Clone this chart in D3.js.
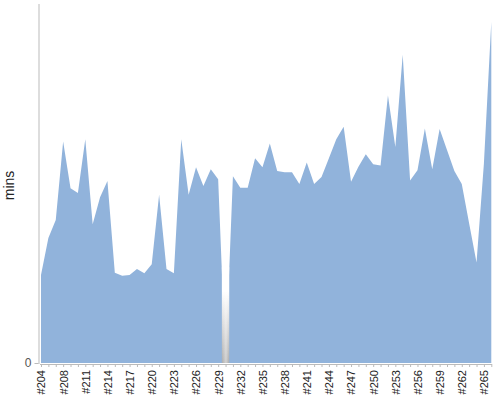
<!DOCTYPE html>
<meta charset="utf-8">
<script src="https://d3js.org/d3.v7.min.js"></script>
<style>
  body { margin: 0; background: #fff; }
  text { font-family: "Liberation Sans", Arial, sans-serif; }
</style>
<div id="my_dataviz"></div>
<script>
    // build numbers (no #205)
    const builds = ["#204"].concat(d3.range(206, 267).map(n => "#" + n));

    // build duration in minutes
    const mins = [14.7, 20.9, 23.9, 37.0, 29.2, 28.4, 37.4, 23.2, 27.7, 30.4,
                  15.1, 14.6, 14.7, 15.7, 15.0, 16.5, 28.1, 15.7, 15.0, 37.4,
                  28.1, 32.7, 29.6, 32.4, 30.7, 0, 31.2, 29.3, 29.3, 34.2,
                  32.7, 36.7, 32.1, 31.9, 31.9, 29.9, 33.5, 29.9, 31.1, 34.2,
                  37.4, 39.5, 30.3, 32.8, 34.9, 33.2, 33.0, 44.7, 36.1, 51.5,
                  30.5, 32.2, 39.2, 32.4, 39.1, 35.6, 32.1, 29.9, 23.3, 16.8,
                  33.4, 57.0];

    // builds that failed (highlighted)
    const failed = ["#230"];

    // label every third build
    const tickLabels = builds.filter((d, i) => i % 3 === 0 && i < 61);

    const margin = {top: 4, right: 9, bottom: 36, left: 41},
        width = 500 - margin.left - margin.right,
        height = 400 - margin.top - margin.bottom;

    const svg = d3.select("#my_dataviz")
      .append("svg")
        .attr("width", 500)
        .attr("height", 400)
      .append("g")
        .attr("transform", `translate(${margin.left},${margin.top})`);

    const x = d3.scalePoint()
      .domain(builds)
      .range([0, width + 0.3]);

    const y = d3.scaleLinear()
      .domain([0, 60])
      .range([height - 1, 0]);

    // area
    const data = builds.map((b, i) => ({build: b, value: mins[i]}));
    svg.append("path")
      .datum(data)
      .attr("fill", "#91b3db")
      .attr("d", d3.area()
        .x(d => x(d.build))
        .y0(y(0))
        .y1(d => y(d.value)));

    // gradient for failed builds, drawn over the area
    const defs = svg.append("defs");
    const grad = defs.append("linearGradient")
        .attr("id", "failGrad")
        .attr("x1", 0).attr("y1", 0).attr("x2", 0).attr("y2", 1);
    grad.append("stop").attr("offset", "0%").attr("stop-color", "#fff");
    grad.append("stop").attr("offset", "25%").attr("stop-color", "#fff");
    grad.append("stop").attr("offset", "100%").attr("stop-color", "#acacac");
    const shine = defs.append("linearGradient")
        .attr("id", "failShine")
        .attr("x1", 0).attr("y1", 0).attr("x2", 1).attr("y2", 0);
    shine.append("stop").attr("offset", "0%").attr("stop-color", "#fff").attr("stop-opacity", 0);
    shine.append("stop").attr("offset", "55%").attr("stop-color", "#fff").attr("stop-opacity", 0.45);
    shine.append("stop").attr("offset", "100%").attr("stop-color", "#fff").attr("stop-opacity", 0);

    const fails = svg.selectAll(".fail")
      .data(failed)
      .join("g")
        .attr("class", "fail");
    fails.append("rect")
        .attr("x", d => x(d) - x.step() / 2)
        .attr("width", x.step())
        .attr("y", y(16))
        .attr("height", y(0) - y(16))
        .attr("fill", "url(#failGrad)");
    fails.append("rect")
        .attr("x", d => x(d) - x.step() / 2)
        .attr("width", x.step())
        .attr("y", y(16))
        .attr("height", y(0) - y(16))
        .attr("fill", "url(#failShine)");

    // X axis
    const xAxis = svg.append("g")
      .attr("transform", `translate(0, ${height})`)
      .call(d3.axisBottom(x)
        .tickSize(3)
        .tickFormat(d => tickLabels.includes(d) ? d : ""));
    xAxis.select(".domain").attr("stroke", "#bbb")
      .attr("d", `M-1,0.5H${width + 1}`);
    xAxis.selectAll(".tick line").attr("stroke", "#bbb");
    xAxis.selectAll(".tick text")
      .attr("transform", "rotate(-90)")
      .attr("text-anchor", "end")
      .attr("x", -6)
      .attr("y", 0)
      .attr("dy", "0.35em")
      .attr("fill", "#222")
      .style("font-size", "11px");

    // Y axis
    const yAxis = svg.append("g")
      .attr("transform", "translate(-2.5,0)")
      .call(d3.axisLeft(y).tickValues([0]).tickSize(4).tickSizeOuter(0));
    yAxis.select(".domain").attr("stroke", "#bbb")
      .attr("d", `M0.5,0V${height}`);
    yAxis.selectAll(".tick line").attr("stroke", "#bbb");
    yAxis.selectAll(".tick text")
      .attr("fill", "#555")
      .style("font-size", "12px");

    // Y title
    svg.append("text")
      .attr("transform", "rotate(-90)")
      .attr("x", -y(0) / 2 - 2)
      .attr("y", -27)
      .attr("text-anchor", "middle")
      .attr("fill", "#222")
      .style("font-size", "14px")
      .text("mins");
</script>
